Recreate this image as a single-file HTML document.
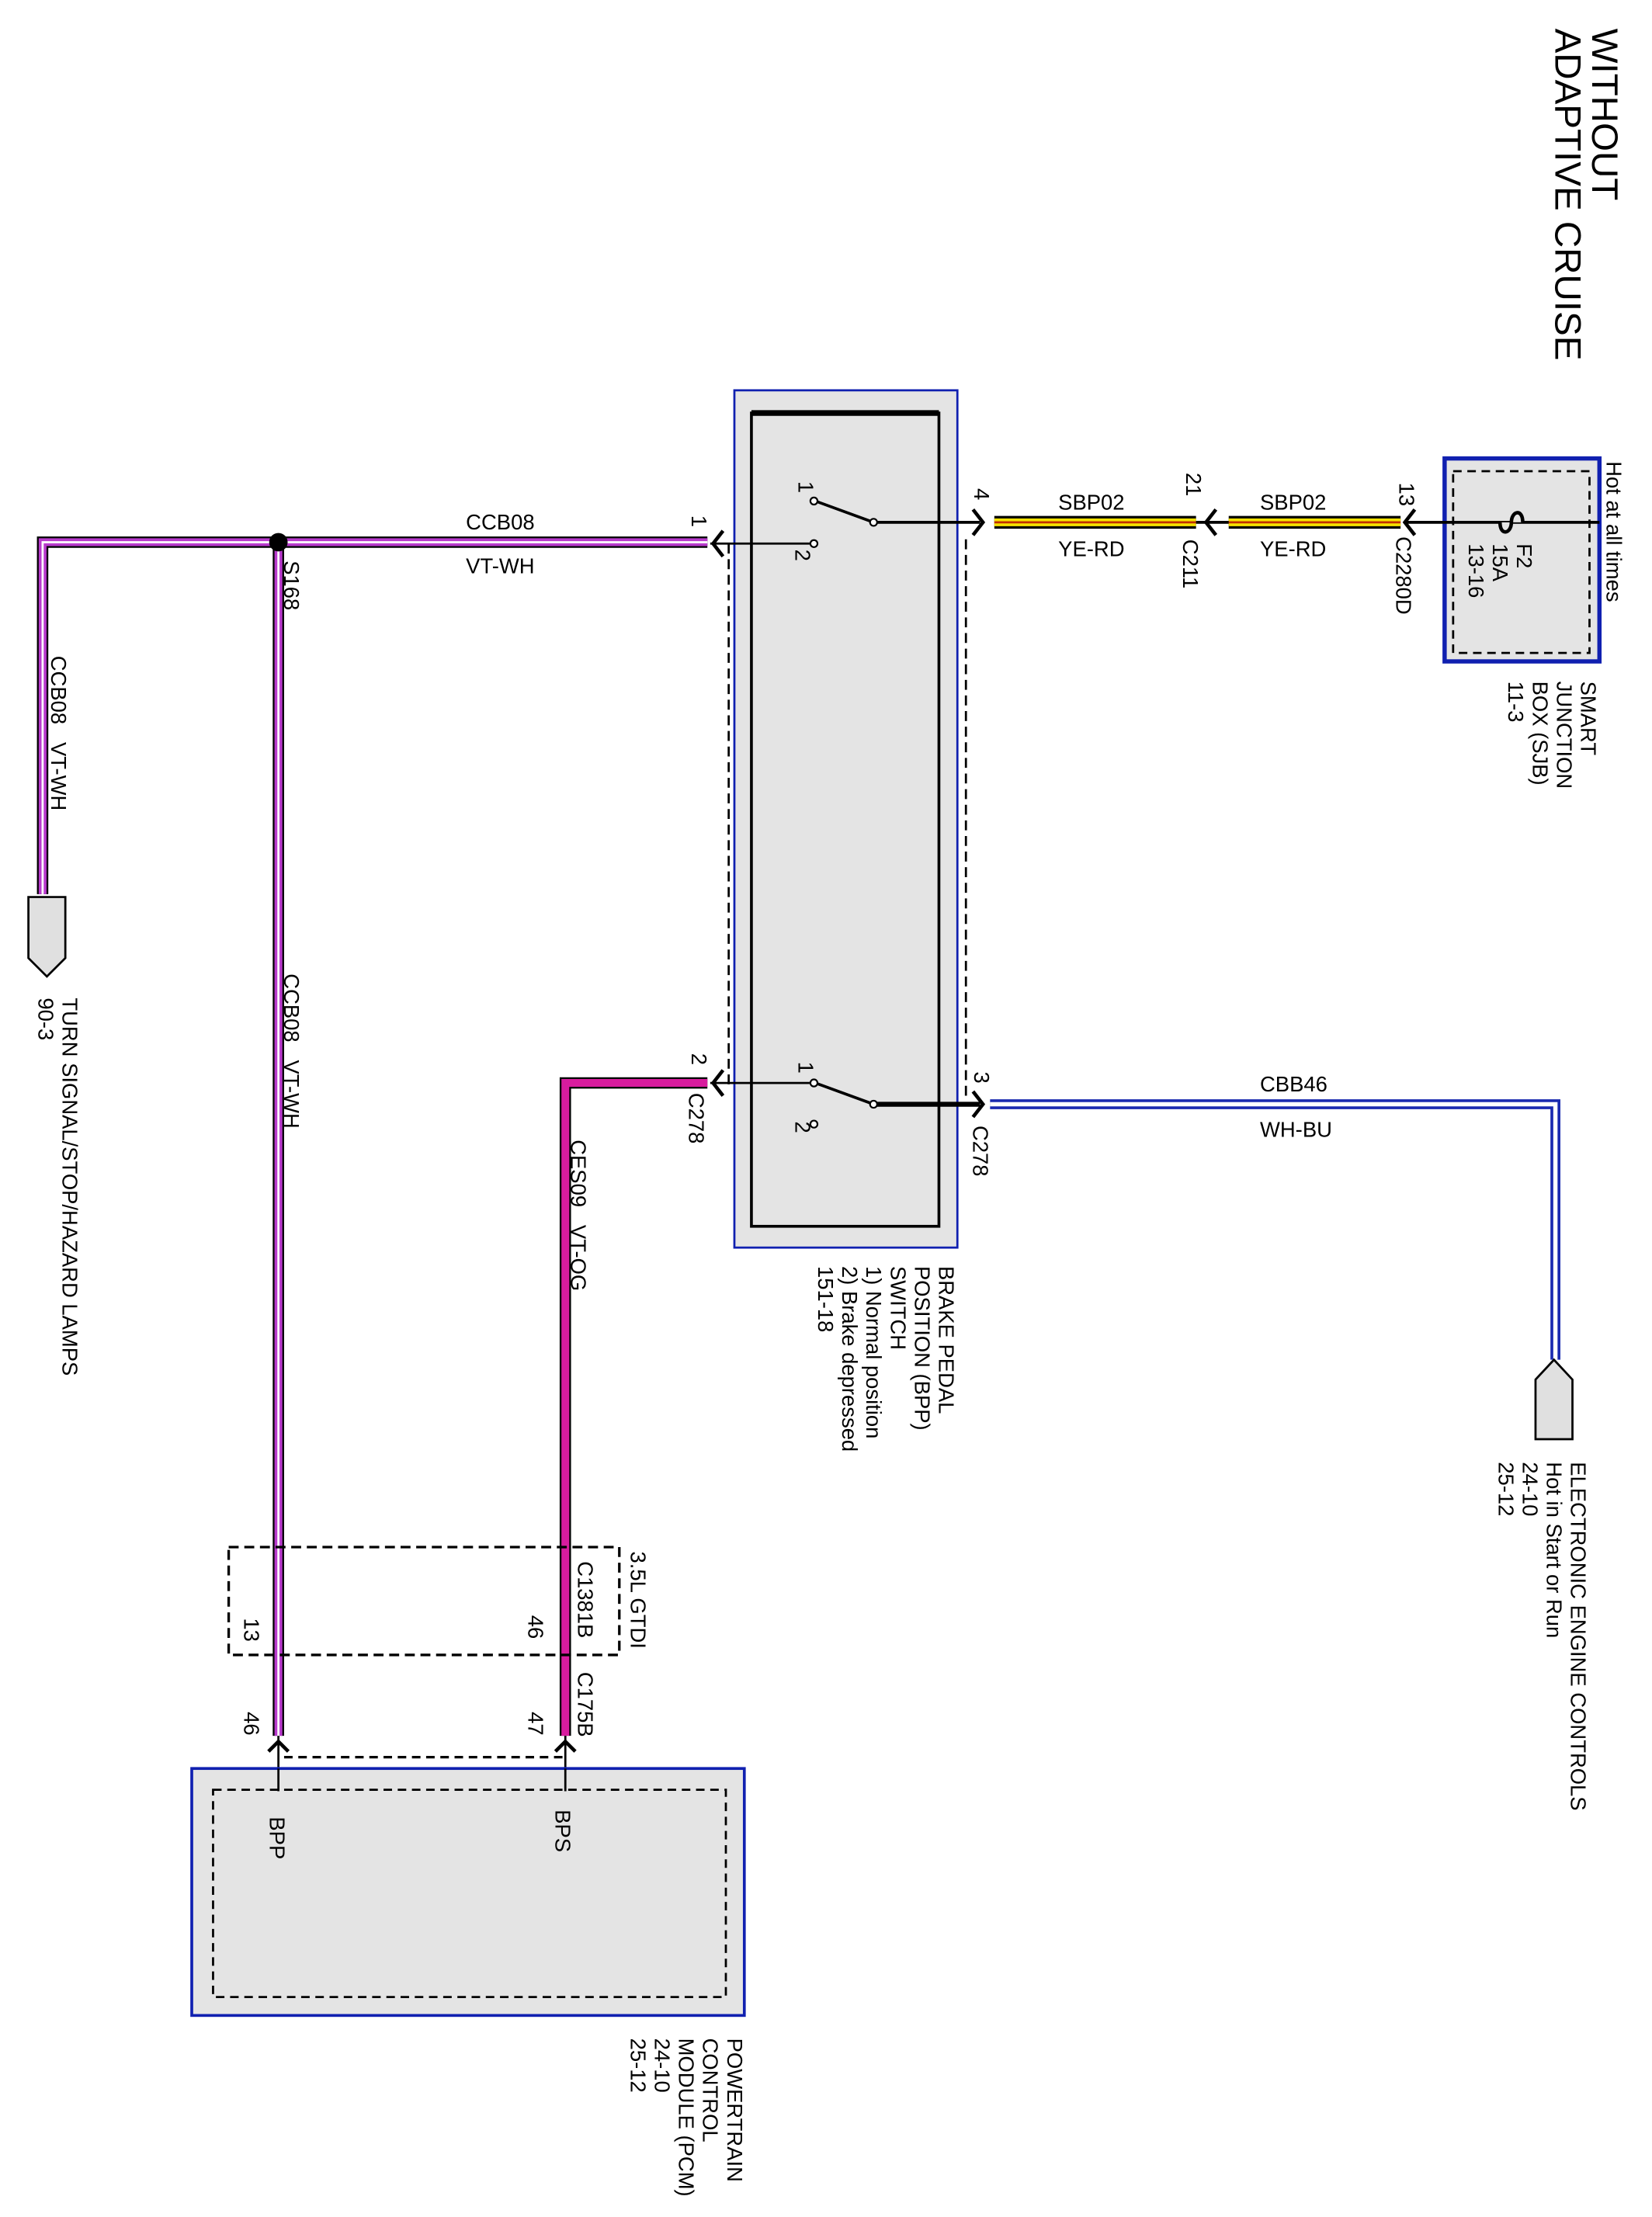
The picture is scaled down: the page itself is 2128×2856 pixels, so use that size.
<!DOCTYPE html>
<html><head><meta charset="utf-8"><style>
html,body{margin:0;padding:0;background:#fff}
svg{display:block}
text{font-family:"Liberation Sans",Arial,sans-serif;fill:#000}
</style></head><body>
<svg width="2128" height="2856" viewBox="0 0 1163 1562" preserveAspectRatio="none" xmlns="http://www.w3.org/2000/svg">
<defs>
<style>
.l{font-size:15px}
.t{font-size:26px}
</style>
</defs>
<!-- Title -->
<text class="t" transform="translate(1121,20) rotate(90)">WITHOUT</text>
<text class="t" transform="translate(1095,20) rotate(90)">ADAPTIVE CRUISE</text>

<!-- SJB -->
<rect x="1017" y="323" width="109" height="143" fill="#e4e4e4" stroke="#1020b0" stroke-width="3"/>
<rect x="1023" y="332" width="96" height="128" fill="none" stroke="#000" stroke-width="1.5" stroke-dasharray="6,4"/>
<line x1="1126" y1="368" x2="990" y2="368" stroke="#000" stroke-width="2"/>
<path d="M1072,368 C1072,358 1064,360 1064,368 C1064,376 1056,378 1056,368" fill="#e4e4e4" stroke="#000" stroke-width="2.5"/>
<text class="l" transform="translate(1068,383) rotate(90)">F2</text>
<text class="l" transform="translate(1051,383) rotate(90)">15A</text>
<text class="l" transform="translate(1034,383) rotate(90)">13-16</text>
<text class="l" transform="translate(1131,325) rotate(90)">Hot at all times</text>
<text class="l" transform="translate(1113,480) rotate(90)">SMART</text>
<text class="l" transform="translate(1096,480) rotate(90)">JUNCTION</text>
<text class="l" transform="translate(1079,480) rotate(90)">BOX (SJB)</text>
<text class="l" transform="translate(1062,480) rotate(90)">11-3</text>

<!-- yellow wires -->
<g>
<line x1="865" y1="368" x2="986" y2="368" stroke="#000" stroke-width="9"/>
<line x1="865" y1="368" x2="986" y2="368" stroke="#f6e200" stroke-width="5.5"/>
<line x1="865" y1="368" x2="986" y2="368" stroke="#c03000" stroke-width="1.5"/>
<line x1="700" y1="368" x2="842" y2="368" stroke="#000" stroke-width="9"/>
<line x1="700" y1="368" x2="842" y2="368" stroke="#f6e200" stroke-width="5.5"/>
<line x1="700" y1="368" x2="842" y2="368" stroke="#c03000" stroke-width="1.5"/>
<line x1="842" y1="368" x2="865" y2="368" stroke="#000" stroke-width="2"/>
</g>
<path d="M996,359 L989,368 L996,377" fill="none" stroke="#000" stroke-width="2.5"/>
<path d="M856,359 L849,368 L856,377" fill="none" stroke="#000" stroke-width="2.5"/>
<path d="M685,359 L692,368 L685,377" fill="none" stroke="#000" stroke-width="2.5"/>
<text class="l" transform="translate(985,340) rotate(90)">13</text>
<text class="l" transform="translate(983,378) rotate(90)">C2280D</text>
<text class="l" transform="translate(835,333) rotate(90)">21</text>
<text class="l" transform="translate(833,380) rotate(90)">C211</text>
<text class="l" transform="translate(686,344) rotate(90)">4</text>
<text class="l" x="887" y="359">SBP02</text>
<text class="l" x="887" y="392">YE-RD</text>
<text class="l" x="745" y="359">SBP02</text>
<text class="l" x="745" y="392">YE-RD</text>

<!-- BPP switch box -->
<rect x="517" y="275" width="157" height="604" fill="#e4e4e4" stroke="#1020b0" stroke-width="1.5"/>
<rect x="529" y="291" width="132" height="573" fill="none" stroke="#000" stroke-width="2"/>
<line x1="529" y1="291" x2="661" y2="291" stroke="#000" stroke-width="4"/>
<line x1="513" y1="383" x2="513" y2="765" stroke="#000" stroke-width="1.5" stroke-dasharray="7,4"/>
<line x1="680" y1="380" x2="680" y2="775" stroke="#000" stroke-width="1.5" stroke-dasharray="7,4"/>
<!-- upper switch -->
<line x1="690" y1="368" x2="615" y2="368" stroke="#000" stroke-width="2"/>
<line x1="615" y1="368" x2="574" y2="353" stroke="#000" stroke-width="2"/>
<circle cx="615" cy="368" r="2.5" fill="#fff" stroke="#000" stroke-width="1.2"/>
<circle cx="573" cy="353" r="2.5" fill="#fff" stroke="#000" stroke-width="1.2"/>
<circle cx="573" cy="383" r="2.5" fill="#fff" stroke="#000" stroke-width="1.2"/>
<line x1="570" y1="383" x2="500" y2="383" stroke="#000" stroke-width="1.5"/>
<path d="M509,374 L502,383 L509,392" fill="none" stroke="#000" stroke-width="2.5"/>
<text class="l" transform="translate(562,339) rotate(90)">1</text>
<text class="l" transform="translate(560,387) rotate(90)">2</text>
<text class="l" transform="translate(487,363) rotate(90)">1</text>
<!-- lower switch -->
<line x1="690" y1="778" x2="615" y2="778" stroke="#000" stroke-width="3.5"/>
<line x1="615" y1="778" x2="574" y2="763" stroke="#000" stroke-width="2"/>
<circle cx="615" cy="778" r="2.5" fill="#fff" stroke="#000" stroke-width="1.2"/>
<circle cx="573" cy="763" r="2.5" fill="#fff" stroke="#000" stroke-width="1.2"/>
<circle cx="573" cy="792" r="2.5" fill="#fff" stroke="#000" stroke-width="1.2"/>
<line x1="570" y1="763" x2="500" y2="763" stroke="#000" stroke-width="1.5"/>
<path d="M509,754 L502,763 L509,772" fill="none" stroke="#000" stroke-width="2.5"/>
<path d="M685,769 L692,778 L685,787" fill="none" stroke="#000" stroke-width="2.5"/>
<text class="l" transform="translate(562,748) rotate(90)">1</text>
<text class="l" transform="translate(560,790) rotate(90)">2</text>
<text class="l" transform="translate(487,742) rotate(90)">2</text>
<text class="l" transform="translate(485,770) rotate(90)">C278</text>
<text class="l" transform="translate(686,755) rotate(90)">3</text>
<text class="l" transform="translate(685,793) rotate(90)">C278</text>
<text class="l" transform="translate(661,892) rotate(90)">BRAKE PEDAL</text>
<text class="l" transform="translate(644,892) rotate(90)">POSITION (BPP)</text>
<text class="l" transform="translate(627,892) rotate(90)">SWITCH</text>
<text class="l" transform="translate(610,892) rotate(90)">1) Normal position</text>
<text class="l" transform="translate(593,892) rotate(90)">2) Brake depressed</text>
<text class="l" transform="translate(576,892) rotate(90)">151-18</text>

<!-- blue wire -->
<polyline points="697,778 1095,778 1095,958" fill="none" stroke="#1a2ab0" stroke-width="7"/>
<polyline points="697,778 1095,778 1095,958" fill="none" stroke="#fff" stroke-width="3"/>
<text class="l" x="887" y="769">CBB46</text>
<text class="l" x="887" y="801">WH-BU</text>
<path d="M1081,972 L1094,958 L1107,972 L1107,1014 L1081,1014 Z" fill="#e0e0e0" stroke="#000" stroke-width="1.5"/>
<text class="l" transform="translate(1106,1030) rotate(90)">ELECTRONIC ENGINE CONTROLS</text>
<text class="l" transform="translate(1089,1030) rotate(90)">Hot in Start or Run</text>
<text class="l" transform="translate(1072,1030) rotate(90)">24-10</text>
<text class="l" transform="translate(1055,1030) rotate(90)">25-12</text>

<!-- CCB08 wires -->
<g fill="none">
<polyline points="498,382 30,382 30,630" stroke="#000" stroke-width="8"/>
<polyline points="498,382 30,382 30,630" stroke="#b83acc" stroke-width="5.5"/>
<polyline points="498,382 30,382 30,630" stroke="#fff" stroke-width="1.5"/>
<polyline points="196,382 196,1223" stroke="#000" stroke-width="8"/>
<polyline points="196,382 196,1223" stroke="#b83acc" stroke-width="5.5"/>
<polyline points="196,382 196,1223" stroke="#fff" stroke-width="1.5"/>
</g>
<circle cx="196" cy="382" r="6.5" fill="#000"/>
<text class="l" x="328" y="373">CCB08</text>
<text class="l" x="328" y="404">VT-WH</text>
<text class="l" transform="translate(200,395) rotate(90)">S168</text>
<text class="l" transform="translate(36,462) rotate(90)">CCB08&#160;&#160;&#160;VT-WH</text>
<text class="l" transform="translate(200,686) rotate(90)">CCB08&#160;&#160;&#160;VT-WH</text>
<path d="M20,632 L46,632 L46,675 L33,688 L20,675 Z" fill="#e0e0e0" stroke="#000" stroke-width="1.5"/>
<text class="l" transform="translate(44,703) rotate(90)">TURN SIGNAL/STOP/HAZARD LAMPS</text>
<text class="l" transform="translate(27,703) rotate(90)">90-3</text>

<!-- CES09 wire -->
<g fill="none">
<polyline points="498,763 398,763 398,1223" stroke="#000" stroke-width="8"/>
<polyline points="498,763 398,763 398,1223" stroke="#d81c9e" stroke-width="5.5"/>
</g>
<text class="l" transform="translate(402,803) rotate(90)">CES09&#160;&#160;&#160;VT-OG</text>

<!-- C1381B dashed -->
<rect x="161" y="1090" width="275" height="76" fill="none" stroke="#000" stroke-width="1.8" stroke-dasharray="7,4"/>
<text class="l" transform="translate(444,1093) rotate(90)">3.5L GTDI</text>
<text class="l" transform="translate(407,1100) rotate(90)">C1381B</text>
<text class="l" transform="translate(372,1138) rotate(90)">46</text>
<text class="l" transform="translate(172,1140) rotate(90)">13</text>
<text class="l" transform="translate(407,1178) rotate(90)">C175B</text>
<text class="l" transform="translate(372,1206) rotate(90)">47</text>
<text class="l" transform="translate(172,1206) rotate(90)">46</text>

<!-- PCM connectors -->
<line x1="196" y1="1223" x2="196" y2="1262" stroke="#000" stroke-width="1.5"/>
<line x1="398" y1="1223" x2="398" y2="1262" stroke="#000" stroke-width="1.5"/>
<path d="M189,1234 L196,1227 L203,1234" fill="none" stroke="#000" stroke-width="2.5"/>
<path d="M391,1234 L398,1227 L405,1234" fill="none" stroke="#000" stroke-width="2.5"/>
<line x1="200" y1="1238" x2="396" y2="1238" stroke="#000" stroke-width="1.8" stroke-dasharray="6,4"/>
<rect x="135" y="1246" width="389" height="174" fill="#e4e4e4" stroke="#1020b0" stroke-width="2"/>
<rect x="150" y="1261" width="361" height="146" fill="none" stroke="#000" stroke-width="1.5" stroke-dasharray="6,4"/>
<line x1="196" y1="1246" x2="196" y2="1262" stroke="#000" stroke-width="1.5"/>
<line x1="398" y1="1246" x2="398" y2="1262" stroke="#000" stroke-width="1.5"/>
<text class="l" transform="translate(190,1280) rotate(90)">BPP</text>
<text class="l" transform="translate(391,1275) rotate(90)">BPS</text>
<text class="l" transform="translate(512,1436) rotate(90)">POWERTRAIN</text>
<text class="l" transform="translate(495,1436) rotate(90)">CONTROL</text>
<text class="l" transform="translate(478,1436) rotate(90)">MODULE (PCM)</text>
<text class="l" transform="translate(461,1436) rotate(90)">24-10</text>
<text class="l" transform="translate(444,1436) rotate(90)">25-12</text>
</svg>
</body></html>
